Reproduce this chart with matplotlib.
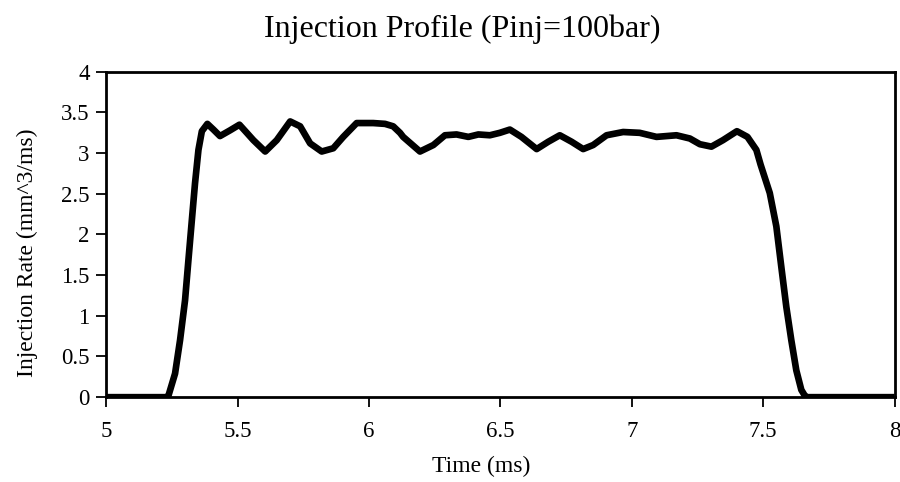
import matplotlib
matplotlib.use('Agg')
import matplotlib.pyplot as plt

plt.rcParams['font.family'] = ['Liberation Serif', 'DejaVu Serif']

# valores (ms, mm^3/ms)
tiempo = [5.0, 5.232, 5.237, 5.262, 5.281, 5.300, 5.313, 5.326, 5.338, 5.351, 5.364,
          5.385, 5.408, 5.433, 5.471, 5.507, 5.535, 5.56, 5.605, 5.649, 5.70, 5.738,
          5.776, 5.82, 5.864, 5.902, 5.953, 6.016, 6.061, 6.092, 6.118, 6.130, 6.194,
          6.245, 6.289, 6.333, 6.378, 6.416, 6.460, 6.498, 6.536, 6.58, 6.638, 6.682,
          6.726, 6.771, 6.815, 6.853, 6.904, 6.967, 7.030, 7.094, 7.17, 7.221, 7.259,
          7.303, 7.347, 7.400, 7.440, 7.474, 7.490, 7.525, 7.55, 7.569, 7.588, 7.607,
          7.626, 7.645, 7.658, 7.665, 8.0]
caudal = [0.0, 0.0, 0.02, 0.29, 0.70, 1.19, 1.69, 2.18, 2.63, 3.04, 3.27,
          3.36, 3.29, 3.21, 3.28, 3.35, 3.25, 3.16, 3.02, 3.16, 3.39, 3.33,
          3.12, 3.02, 3.06, 3.20, 3.37, 3.37, 3.36, 3.33, 3.25, 3.20, 3.02,
          3.10, 3.22, 3.23, 3.20, 3.23, 3.22, 3.25, 3.29, 3.20, 3.05, 3.14,
          3.22, 3.14, 3.05, 3.10, 3.22, 3.26, 3.25, 3.20, 3.22, 3.18, 3.11,
          3.08, 3.16, 3.27, 3.20, 3.04, 2.86, 2.51, 2.10, 1.60, 1.11, 0.70,
          0.33, 0.09, 0.02, 0.0, 0.0]

fig = plt.figure(figsize=(9, 4.82), dpi=100)
ax = fig.add_axes([0.118, 0.176, 0.876, 0.675])

ax.plot(tiempo, caudal, color='black', lw=4.8, solid_joinstyle='round',
        solid_capstyle='butt')
ax.set_xlim(5, 8)
ax.set_ylim(0, 4)
ax.set_xticks([5, 5.5, 6, 6.5, 7, 7.5, 8])
ax.set_xticklabels(['5', '5.5', '6', '6.5', '7', '7.5', '8'])
ax.set_yticks([0, 0.5, 1, 1.5, 2, 2.5, 3, 3.5, 4])
ax.set_yticklabels(['0', '0.5', '1', '1.5', '2', '2.5', '3', '3.5', '4'])
ax.tick_params(direction='out', length=7, width=1.3, labelsize=16.5)
ax.tick_params(axis='x', pad=10)
ax.tick_params(axis='y', pad=5)
for s in ax.spines.values():
    s.set_linewidth(2)

fig.text(0.535, 0.033, 'Time (ms)', fontsize=17, ha='center', va='center')
fig.text(0.03, 0.475, 'Injection Rate (mm^3/ms)', fontsize=17, ha='center',
         va='center', rotation=90)
fig.text(0.514, 0.94, 'Injection Profile (Pinj=100bar)', fontsize=23,
         ha='center', va='center')

fig.savefig('out.png', dpi=100)
